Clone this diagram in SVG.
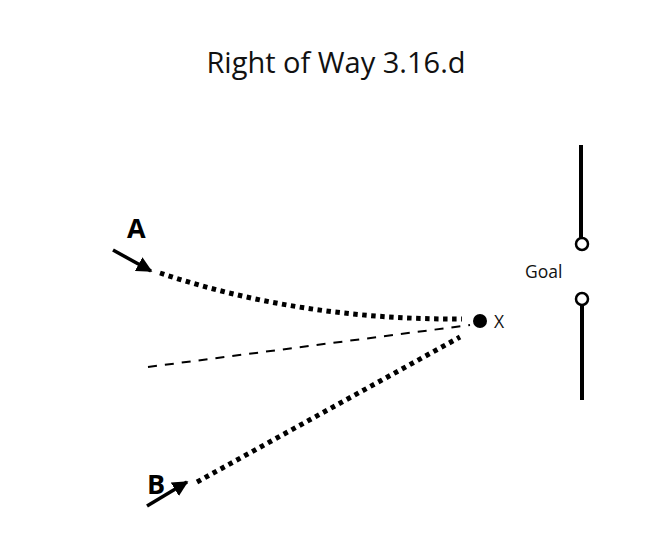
<svg xmlns="http://www.w3.org/2000/svg" width="671" height="542" viewBox="0 0 671 542">
<style>
.title{font-family:"Open Sans","Noto Sans",sans-serif;font-size:29px;fill:#111}
.lbl{font-family:"Open Sans","Noto Sans",sans-serif;font-weight:bold;font-size:27px;fill:#000}
.small{font-family:"Open Sans","Noto Sans",sans-serif;font-size:17.5px;fill:#111}
.dot{fill:none;stroke:#000;stroke-width:5;stroke-dasharray:4.5 4.5}
.dash{fill:none;stroke:#000;stroke-width:2;stroke-dasharray:9 8}
.arrow{stroke:#000;stroke-width:3.5;fill:none}
.post{stroke:#000;stroke-width:4;fill:none}
.ring{stroke:#000;stroke-width:2.5;fill:#fff}
</style>
<defs>
<marker id="ah" viewBox="0 0 10 10" refX="9" refY="5" markerWidth="4.5" markerHeight="4.5" orient="auto" markerUnits="strokeWidth">
<path d="M0,0 L10,5 L0,10 Z" fill="#000"/>
</marker>
</defs>
<rect width="671" height="542" fill="#fff"/>
<text class="title" x="336" y="73" text-anchor="middle">Right of Way 3.16.d</text>
<g id="connectors">
<path class="dot" d="M160,273 Q300,320 462,319"/>
<path class="dash" d="M148,367 L470,325"/>
<path class="dot" d="M197,482 L460,337"/>
<line class="arrow" x1="113" y1="250" x2="151" y2="271" marker-end="url(#ah)"/>
<line class="arrow" x1="147" y1="506" x2="187" y2="482" marker-end="url(#ah)"/>
</g>
<g id="A"><text class="lbl" x="127" y="238">A</text></g>
<g id="B"><text class="lbl" x="147" y="494">B</text></g>
<g id="X">
<circle cx="480" cy="321" r="7" fill="#000"/>
<text class="small" x="494" y="328">X</text>
</g>
<g id="goal">
<line class="post" x1="581" y1="145" x2="581" y2="238"/>
<circle class="ring" cx="582" cy="244" r="6"/>
<circle class="ring" cx="582" cy="299" r="6"/>
<line class="post" x1="582" y1="305" x2="582" y2="400"/>
<text class="small" x="525" y="278">Goal</text>
</g>
</svg>
